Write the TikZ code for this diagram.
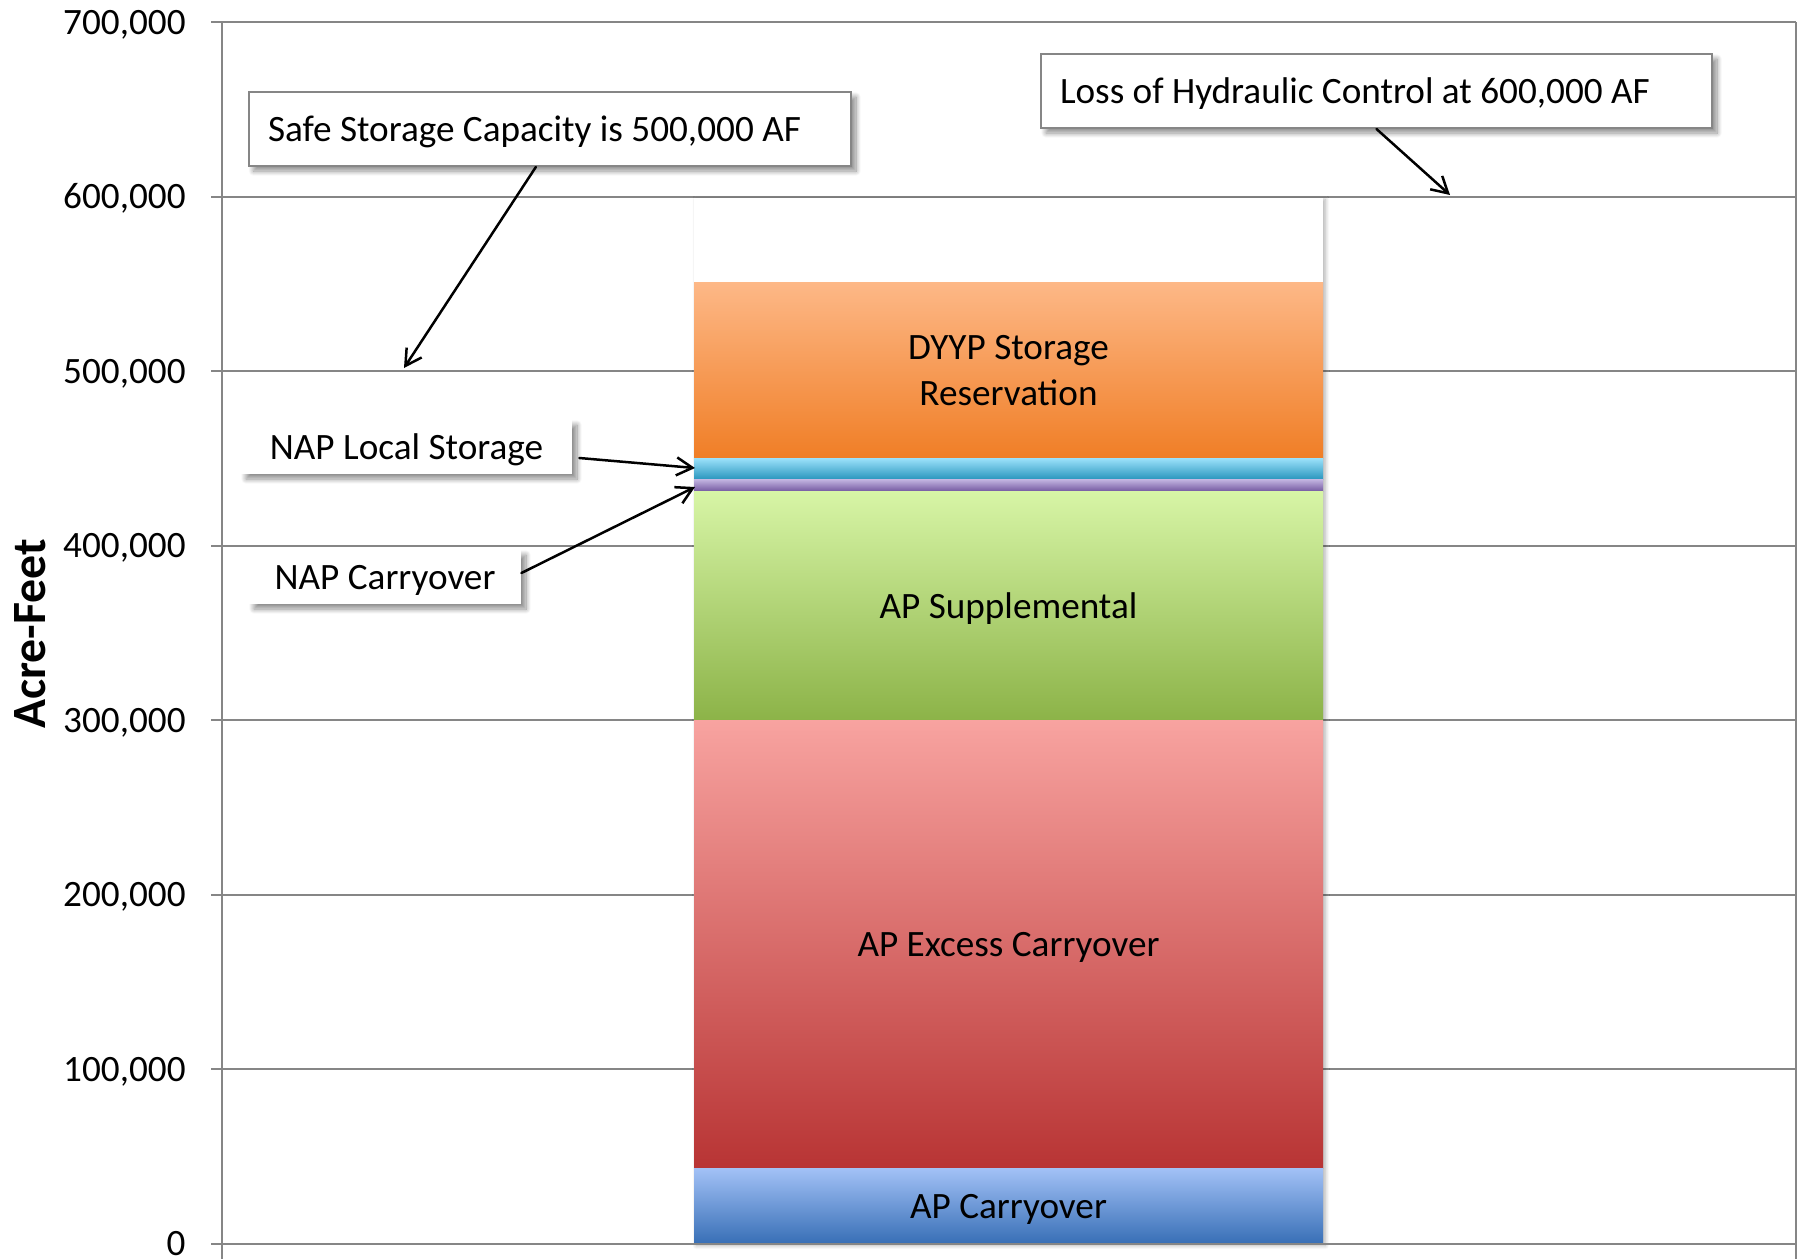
\documentclass[tikz,border=0pt]{standalone}
\usepackage{fontspec}
\setmainfont{Carlito}
\usetikzlibrary{arrows.meta,calc,shadows.blur}

\definecolor{gridgray}{RGB}{134,134,134}
\definecolor{dyypTop}{RGB}{253,184,135}
\definecolor{dyypBot}{RGB}{240,126,38}
\definecolor{nlocTop}{RGB}{155,225,250}
\definecolor{nlocBot}{RGB}{42,150,190}
\definecolor{ncarTop}{RGB}{196,182,226}
\definecolor{ncarBot}{RGB}{115,88,160}
\definecolor{supTop}{RGB}{215,245,166}
\definecolor{supBot}{RGB}{140,179,72}
\definecolor{excTop}{RGB}{248,163,160}
\definecolor{excBot}{RGB}{184,52,52}
\definecolor{apcTop}{RGB}{162,193,246}
\definecolor{apcBot}{RGB}{56,111,182}

\begin{document}
\begin{tikzpicture}[x=0.5pt,y=-0.5pt,
  gridline/.style={draw=gridgray, line width=1pt},
  basefont/.style={font=\fontsize{18.6}{23}\selectfont},
  seglabel/.style={basefont, text height=12pt, text depth=0pt, inner sep=0pt},
  ticklabel/.style={basefont, anchor=east, text height=12pt, text depth=0pt, inner sep=0pt},
  boxshadow/.style={blur shadow={shadow xshift=2.5pt, shadow yshift=-2.5pt,
      shadow blur radius=2.5pt, shadow blur steps=10, shadow opacity=45}},
  callout/.style={basefont, fill=white, draw=gridgray, line width=1pt, boxshadow,
      align=flush left, inner ysep=0pt, text height=12pt, text depth=0pt, minimum height=37pt},
  note/.style={basefont, fill=white, boxshadow, inner sep=0pt,
      text height=12pt, text depth=0pt, minimum height=27pt},
  pointer/.style={-{Straight Barb[length=8pt,width=9pt]}, line width=1.25pt, line cap=round}
]
\useasboundingbox (0,0) rectangle (1804,1259);

% value axis gridlines (100,000 AF apart) with tick stubs
\foreach \yy in {1069,894.5,720,545.5,371,196.5,22}
  \draw[gridline] (211,\yy) -- (1796,\yy);
\draw[gridline] (222,22) -- (222,1259);
\draw[gridline] (1796,22) -- (1796,1259);

% tick labels
\foreach \yy/\lab in {1243.5/0,1069/{100,000},894.5/{200,000},720/{300,000},
                      545.5/{400,000},371/{500,000},196.5/{600,000},22/{700,000}}
  \node[ticklabel] at (186,\yy) {\lab};

% axis title
\node[font=\bfseries\fontsize{23.9}{28}\selectfont, rotate=90, inner sep=0pt,
      text height=15.4pt, text depth=0pt] (ytitle) at (30,634) {Acre-Feet};

% stacked column: outline with shadow, then each layer
\path[fill=white, blur shadow={shadow xshift=1.2pt, shadow yshift=-1pt,
      shadow blur radius=2pt, shadow blur steps=8, shadow opacity=30}]
  (694,197.5) rectangle (1323,1243.5);
\shade[top color=dyypTop, bottom color=dyypBot] (694,282) rectangle (1323,458.25);
\shade[top color=nlocTop, bottom color=nlocBot] (694,458.25) rectangle (1323,479.2);
\shade[top color=ncarTop, bottom color=ncarBot] (694,479.2) rectangle (1323,491.4);
\shade[top color=supTop, bottom color=supBot] (694,491.4) rectangle (1323,720);
\shade[top color=excTop, bottom color=excBot] (694,720) rectangle (1323,1168.5);
\shade[top color=apcTop, bottom color=apcBot] (694,1168.5) rectangle (1323,1243.5);

% category axis
\draw[gridline] (211,1243.5) -- (1796,1243.5);

% layer labels
\node[basefont, align=center, inner sep=0pt] (dyyp) at (1008.5,371) {DYYP Storage\\Reservation};
\node[seglabel] (sup) at (1008.5,606) {AP Supplemental};
\node[seglabel] (exc) at (1008.5,944) {AP Excess Carryover};
\node[seglabel] (apc) at (1008.5,1206) {AP Carryover};

% callouts
\node[callout, text width=281.75pt, inner xsep=9.75pt] (safe) at (549.75,129)
  {Safe Storage Capacity is 500,000 AF};
\node[callout, text width=316.5pt, inner xsep=9.5pt] (loss) at (1376.5,91)
  {Loss of Hydraulic Control at 600,000 AF};
\node[note, minimum width=165.5pt] (nloc) at (406.5,447) {NAP Local Storage};
\node[note, minimum width=136pt] (ncar) at (385,577) {NAP Carryover};

% arrow targets
\coordinate (safetip) at (404,368);
\coordinate (losstip) at (1450,195);
\coordinate (loctip) at (695,468);
\coordinate (cartip) at (695,487);

\draw[pointer] ($(safe.south west)!0.477!(safe.south east)$) -- (safetip);
\draw[pointer] (loss.south) -- (losstip);
\draw[pointer] ([shift={(3.5pt,-5.5pt)}]nloc.east) -- (loctip);
\draw[pointer] ([shift={(0pt,2pt)}]ncar.east) -- (cartip);
\end{tikzpicture}
\end{document}
